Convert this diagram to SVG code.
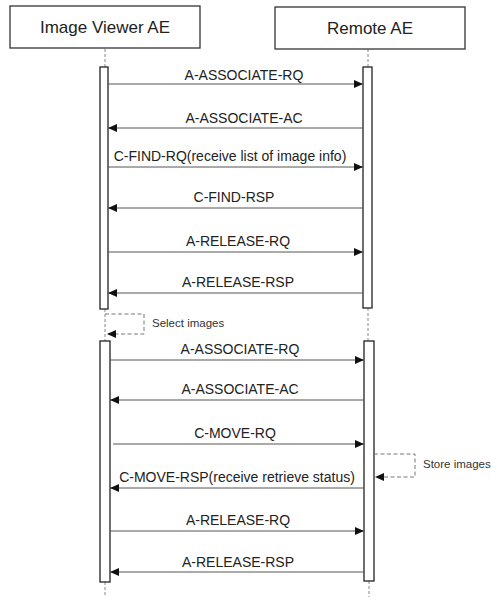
<svg xmlns="http://www.w3.org/2000/svg" width="491" height="597" viewBox="0 0 491 597">
<style>
.box{fill:#fff;stroke:#333;stroke-width:1.3}
.act{fill:#fff;stroke:#222;stroke-width:1.3}
.life{stroke:#888;stroke-width:1;stroke-dasharray:3,2;fill:none}
.msg{stroke:#555;stroke-width:1;fill:none;marker-end:url(#ah)}
.loop{stroke:#777;stroke-width:1;stroke-dasharray:4,2.5;fill:none;marker-end:url(#ah)}
.hd{font-family:"Liberation Sans",Arial,sans-serif;font-size:17px;fill:#222;text-anchor:middle}
.lb{font-family:"Liberation Sans",Arial,sans-serif;font-size:14px;fill:#222;text-anchor:middle}
.sm{font-family:"Liberation Sans",Arial,sans-serif;font-size:11.5px;fill:#333}
</style>
<defs>
<marker id="ah" markerWidth="10" markerHeight="8" refX="9" refY="4" orient="auto" markerUnits="userSpaceOnUse">
<path d="M0,0 L9,4 L0,8 Z" fill="#111"/>
</marker>
</defs>
<rect width="491" height="597" fill="#fff"/>
<g id="lifelines">
<line class="life" x1="105" y1="49" x2="105" y2="67"/>
<line class="life" x1="105" y1="309" x2="105" y2="341"/>
<line class="life" x1="105" y1="582" x2="105" y2="597"/>
<line class="life" x1="368" y1="49" x2="368" y2="67"/>
<line class="life" x1="368" y1="308" x2="368" y2="341"/>
<line class="life" x1="369" y1="581" x2="369" y2="597"/>
</g>
<g id="viewer">
<rect class="box" x="10" y="6" width="190" height="42"/>
<text class="hd" x="105" y="33">Image Viewer AE</text>
</g>
<g id="remote">
<rect class="box" x="275" y="7" width="190" height="42"/>
<text class="hd" x="370" y="34">Remote AE</text>
</g>
<g id="act-viewer-1"><rect class="act" x="100" y="67" width="8" height="242"/></g>
<g id="act-remote-1"><rect class="act" x="363" y="67" width="9" height="241"/></g>
<g id="act-viewer-2"><rect class="act" x="100" y="341" width="10" height="241"/></g>
<g id="act-remote-2"><rect class="act" x="364" y="341" width="10" height="240"/></g>
<g id="connectors">
<line class="msg" x1="108" y1="84" x2="363" y2="84"/>
<line class="msg" x1="363" y1="128" x2="108" y2="128"/>
<line class="msg" x1="108" y1="167" x2="363" y2="167"/>
<line class="msg" x1="363" y1="208" x2="108" y2="208"/>
<line class="msg" x1="108" y1="252" x2="363" y2="252"/>
<line class="msg" x1="363" y1="293" x2="108" y2="293"/>
<path class="loop" d="M105,314 H144 V334 H107"/>
<line class="msg" x1="110" y1="360" x2="364" y2="360"/>
<line class="msg" x1="364" y1="400" x2="110" y2="400"/>
<line class="msg" x1="113" y1="444" x2="364" y2="444"/>
<path class="loop" d="M374,454 H415 V477 H375"/>
<line class="msg" x1="364" y1="488" x2="110" y2="488"/>
<line class="msg" x1="110" y1="531" x2="364" y2="531"/>
<line class="msg" x1="364" y1="572" x2="110" y2="572"/>
</g>
<g id="labels">
<text class="lb" x="244" y="80">A-ASSOCIATE-RQ</text>
<text class="lb" x="244" y="123">A-ASSOCIATE-AC</text>
<text class="lb" x="230" y="161">C-FIND-RQ(receive list of image info)</text>
<text class="lb" x="234" y="202">C-FIND-RSP</text>
<text class="lb" x="238" y="246">A-RELEASE-RQ</text>
<text class="lb" x="238" y="287">A-RELEASE-RSP</text>
<text class="sm" x="152" y="327">Select images</text>
<text class="lb" x="240" y="354">A-ASSOCIATE-RQ</text>
<text class="lb" x="240" y="394">A-ASSOCIATE-AC</text>
<text class="lb" x="235" y="438">C-MOVE-RQ</text>
<text class="sm" x="423" y="468">Store images</text>
<text class="lb" x="237" y="482">C-MOVE-RSP(receive retrieve status)</text>
<text class="lb" x="238" y="525">A-RELEASE-RQ</text>
<text class="lb" x="238" y="567">A-RELEASE-RSP</text>
</g>
</svg>
